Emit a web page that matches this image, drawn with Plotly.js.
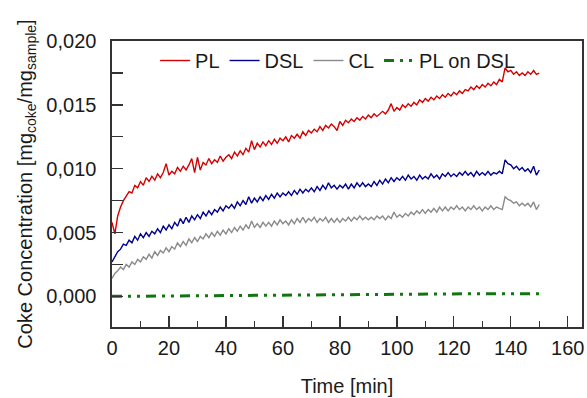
<!DOCTYPE html>
<html>
<head>
<meta charset="utf-8">
<script src="https://cdn.plot.ly/plotly-3.0.1.min.js"></script>
<style>html,body{margin:0;padding:0;background:#fff;}#chart{width:587px;height:398px;}</style>
</head>
<body>
<div id="chart"></div>
<script>
const time = [0,1,2,3,4,5,6,7,8,9,10,11,12,13,14,15,16,17,18,19,20,21,22,23,24,25,26,27,28,29,30,31,32,33,34,35,36,37,38,39,40,41,42,43,44,45,46,47,48,49,50,51,52,53,54,55,56,57,58,59,60,61,62,63,64,65,66,67,68,69,70,71,72,73,74,75,76,77,78,79,80,81,82,83,84,85,86,87,88,89,90,91,92,93,94,95,96,97,98,99,100,101,102,103,104,105,106,107,108,109,110,111,112,113,114,115,116,117,118,119,120,121,122,123,124,125,126,127,128,129,130,131,132,133,134,135,136,137,138,139,140,141,142,143,144,145,146,147,148,149,150];

const pl = [0.0058,0.0049,0.0063,0.0070,0.0075,0.0079,0.0082,0.0081,0.0087,0.0085,0.0090,0.0087,0.0093,0.0090,0.0094,0.0091,0.0096,0.0093,0.0097,0.0104,0.0095,0.0098,0.0096,0.0101,0.0098,0.0102,0.0099,0.0103,0.0108,0.0097,0.0109,0.0099,0.0105,0.0103,0.0108,0.0104,0.0107,0.0105,0.0110,0.0106,0.0109,0.0111,0.0108,0.0113,0.0110,0.0114,0.0111,0.0116,0.0113,0.0122,0.0115,0.0120,0.0117,0.0121,0.0118,0.0122,0.0119,0.0123,0.0120,0.0124,0.0122,0.0125,0.0121,0.0126,0.0124,0.0127,0.0124,0.0129,0.0126,0.0130,0.0128,0.0131,0.0129,0.0133,0.0130,0.0134,0.0132,0.0135,0.0133,0.0130,0.0137,0.0134,0.0138,0.0136,0.0139,0.0137,0.0140,0.0138,0.0141,0.0139,0.0142,0.0140,0.0143,0.0141,0.0143,0.0145,0.0143,0.0146,0.0151,0.0145,0.0148,0.0146,0.0150,0.0148,0.0151,0.0149,0.0152,0.0150,0.0154,0.0152,0.0155,0.0153,0.0156,0.0154,0.0157,0.0155,0.0158,0.0156,0.0159,0.0157,0.0160,0.0158,0.0161,0.0159,0.0162,0.0161,0.0164,0.0162,0.0165,0.0163,0.0166,0.0164,0.0167,0.0165,0.0168,0.0166,0.0170,0.0168,0.0179,0.0176,0.0177,0.0174,0.0176,0.0173,0.0175,0.0173,0.0176,0.0174,0.0177,0.0174,0.0175];

const dsl = [0.0027,0.0031,0.0035,0.0037,0.0041,0.0040,0.0044,0.0042,0.0047,0.0044,0.0049,0.0046,0.0050,0.0047,0.0051,0.0049,0.0053,0.0050,0.0055,0.0052,0.0056,0.0053,0.0058,0.0055,0.0061,0.0057,0.0062,0.0058,0.0063,0.0060,0.0064,0.0061,0.0066,0.0063,0.0067,0.0064,0.0068,0.0066,0.0070,0.0067,0.0071,0.0069,0.0072,0.0069,0.0074,0.0071,0.0075,0.0072,0.0078,0.0073,0.0077,0.0074,0.0078,0.0075,0.0079,0.0076,0.0080,0.0077,0.0081,0.0078,0.0081,0.0079,0.0082,0.0079,0.0083,0.0080,0.0084,0.0081,0.0084,0.0082,0.0085,0.0082,0.0086,0.0083,0.0087,0.0084,0.0089,0.0085,0.0087,0.0084,0.0087,0.0085,0.0088,0.0084,0.0088,0.0085,0.0089,0.0086,0.0089,0.0086,0.0088,0.0086,0.0090,0.0087,0.0091,0.0088,0.0092,0.0089,0.0093,0.0090,0.0093,0.0091,0.0094,0.0091,0.0095,0.0092,0.0094,0.0091,0.0095,0.0092,0.0094,0.0092,0.0096,0.0093,0.0095,0.0092,0.0096,0.0094,0.0097,0.0094,0.0096,0.0094,0.0097,0.0095,0.0098,0.0095,0.0097,0.0094,0.0098,0.0095,0.0097,0.0095,0.0098,0.0095,0.0097,0.0096,0.0098,0.0096,0.0107,0.0104,0.0103,0.0100,0.0102,0.0099,0.0101,0.0098,0.0100,0.0097,0.0102,0.0095,0.0099];

const cl = [0.0014,0.0018,0.0020,0.0023,0.0021,0.0025,0.0023,0.0027,0.0025,0.0029,0.0027,0.0031,0.0029,0.0033,0.0030,0.0035,0.0032,0.0036,0.0034,0.0038,0.0035,0.0039,0.0037,0.0042,0.0039,0.0043,0.0040,0.0045,0.0042,0.0046,0.0043,0.0047,0.0045,0.0049,0.0046,0.0050,0.0047,0.0051,0.0048,0.0052,0.0049,0.0053,0.0050,0.0054,0.0051,0.0055,0.0052,0.0056,0.0053,0.0059,0.0054,0.0057,0.0054,0.0058,0.0055,0.0058,0.0055,0.0059,0.0056,0.0060,0.0057,0.0059,0.0056,0.0060,0.0057,0.0061,0.0058,0.0062,0.0058,0.0061,0.0059,0.0062,0.0058,0.0061,0.0059,0.0062,0.0058,0.0061,0.0058,0.0061,0.0058,0.0061,0.0059,0.0062,0.0059,0.0062,0.0060,0.0063,0.0060,0.0062,0.0060,0.0062,0.0060,0.0063,0.0061,0.0063,0.0060,0.0063,0.0061,0.0066,0.0062,0.0064,0.0062,0.0065,0.0063,0.0066,0.0064,0.0067,0.0065,0.0068,0.0065,0.0068,0.0066,0.0069,0.0066,0.0070,0.0067,0.0070,0.0067,0.0070,0.0068,0.0071,0.0068,0.0070,0.0067,0.0070,0.0068,0.0071,0.0068,0.0070,0.0067,0.0070,0.0068,0.0071,0.0068,0.0070,0.0069,0.0068,0.0078,0.0076,0.0075,0.0073,0.0074,0.0071,0.0073,0.0071,0.0073,0.0070,0.0074,0.0068,0.0072];

const plOnDslTime = [0,25,50,75,100,125,150];
const plOnDsl = [0.0000,0.00005,0.0001,0.0001,0.00015,0.0002,0.0002];

const seriesNames = ['PL','DSL','CL','PL on DSL'];
const xTickVals = [0,20,40,60,80,100,120,140,160];
const yTickVals = [0.000,0.005,0.010,0.015,0.020];

const traces = [
  {x: time, y: pl, name: seriesNames[0], mode: 'lines', line: {color: '#d40000', width: 1.4}},
  {x: time, y: dsl, name: seriesNames[1], mode: 'lines', line: {color: '#00008f', width: 1.4}},
  {x: time, y: cl, name: seriesNames[2], mode: 'lines', line: {color: '#8a8a8a', width: 1.4}},
  {x: plOnDslTime, y: plOnDsl, name: seriesNames[3], mode: 'lines', line: {color: '#127512', width: 3, dash: '10px,6px,3px,6px,3px,6px'}}
];

const font = {family: 'Liberation Sans, Arial, sans-serif', size: 20, color: '#1a1a1a'};

const layout = {
  width: 587, height: 398,
  margin: {l: 112, r: 5, t: 41, b: 71},
  paper_bgcolor: '#fff', plot_bgcolor: '#fff',
  separators: ',.',
  font: font,
  showlegend: true,
  legend: {orientation: 'h', x: 0.48, xanchor: 'center', y: 1.0, yanchor: 'top',
           bgcolor: 'rgba(0,0,0,0)', font: font, itemwidth: 30, tracegroupgap: 0},
  xaxis: {
    range: [0, 165], tickvals: xTickVals, ticks: 'inside', ticklen: 11, tickwidth: 1.3, tickcolor: '#333',
    minor: {dtick: 10, tick0: 0, ticks: 'inside', ticklen: 6, tickwidth: 1.3, tickcolor: '#333'},
    showline: true, linecolor: '#333', linewidth: 1.6, mirror: true,
    showgrid: false, zeroline: false, tickfont: font, ticklabelstandoff: 2,
    title: {text: 'Time [min]', font: font, standoff: 21}
  },
  yaxis: {
    range: [-0.0024, 0.02001], tickvals: yTickVals, tickformat: '.3f', ticks: 'inside', ticklen: 11, tickwidth: 1.3, tickcolor: '#333',
    minor: {dtick: 0.0025, tick0: 0, ticks: 'inside', ticklen: 11, tickwidth: 1.3, tickcolor: '#333'},
    showline: true, linecolor: '#333', linewidth: 1.6, mirror: true,
    showgrid: false, zeroline: false, tickfont: font, ticklabelstandoff: 10,
    title: {text: 'Coke Concentration [mg<sub>coke</sub>/mg<sub>sample</sub>]', font: font, standoff: 8}
  }
};

Plotly.newPlot('chart', traces, layout, {displayModeBar: false, staticPlot: true});
</script>
</body>
</html>
